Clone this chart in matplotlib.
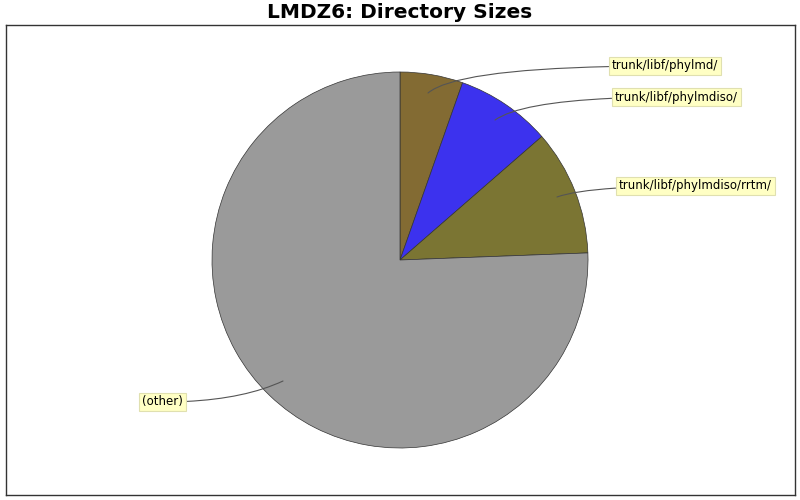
import matplotlib
matplotlib.use("Agg")
import matplotlib.pyplot as plt

# directory share of total size (percent)
labels = ["trunk/libf/phylmd/", "trunk/libf/phylmdiso/",
          "trunk/libf/phylmdiso/rrtm/", "(other)"]
sizes = [5.4, 8.2, 10.8, 75.6]
colors = ["#836B33", "#3C32EE", "#7B7533", "#9A9A9A"]


def main():
    fig = plt.figure(figsize=(8, 5), dpi=100)
    fig.suptitle("LMDZ6: Directory Sizes", y=0.995, fontsize=14.5,
                 fontweight="bold",
                 family=["Liberation Sans Narrow", "DejaVu Sans"])

    # axes in pixel units so the pie sits where it does in the original
    ax = fig.add_axes([6 / 800, 5 / 500, 789 / 800, 470 / 500])
    ax.set_xticks([])
    ax.set_yticks([])

    ax.pie(sizes, colors=colors, startangle=90,
           counterclock=False, center=(400, 240), radius=188,
           wedgeprops=dict(edgecolor="#333333", linewidth=0.5),
           frame=True)
    ax.set_xlim(6, 795)
    ax.set_ylim(5, 475)
    ax.set_aspect("equal")
    ax.set_xticks([])
    ax.set_yticks([])
    for s in ax.spines.values():
        s.set_color("#333333")
        s.set_linewidth(1)

    # label box positions and connector anchor points
    box_xy = [(612, 434), (615, 403), (619, 314), (183, 98)]
    anchors = [(428, 407), (495, 380), (557, 303), (283, 119)]
    angles = [(0, 40), (0, 35), (0, 20), (0, 25)]
    aligns = ["left", "left", "left", "right"]

    for lab, bxy, axy, ang, ha in zip(labels, box_xy, anchors, angles,
                                      aligns):
        ax.annotate(lab, xy=axy, xytext=bxy, ha=ha, va="center",
                    fontsize=8.5,
                    bbox=dict(boxstyle="square,pad=0.25", fc="#FFFFC4",
                              ec="#E0E0B0", lw=0.8),
                    arrowprops=dict(arrowstyle="-", color="#555555",
                                    lw=0.8, shrinkA=0, shrinkB=0,
                                    connectionstyle="angle3,angleA=%d,"
                                    "angleB=%d" % ang))

    fig.savefig("out.png", dpi=100)


if __name__ == "__main__":
    main()
